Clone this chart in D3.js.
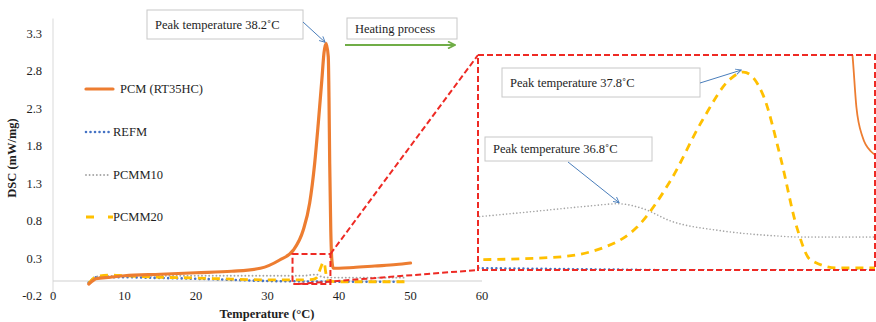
<!DOCTYPE html>
<html>
<head>
<meta charset="utf-8">
<script src="https://cdn.jsdelivr.net/npm/d3@7"></script>
<style>
  body { margin: 0; background: #fff; }
  svg { display: block; }
  text { font-family: "Liberation Serif", "Times New Roman", serif; fill: #1e1e1e; }
</style>
</head>
<body>
<svg id="chart" width="876" height="322"></svg>
<script>
// ---- main chart data (temperature in °C, DSC in mW/mg)
const pcmT  = [5, 5.5, 6, 8, 10, 15, 20, 25, 29, 31.7, 33.6, 35, 35.9, 36.6, 37.1, 37.6, 37.9, 38.2, 38.5, 38.6, 38.7, 38.85, 39.0, 39.2, 40, 42, 45, 48, 50];
const pcmV  = [-0.04, 0.0, 0.03, 0.05, 0.07, 0.09, 0.11, 0.13, 0.17, 0.28, 0.41, 0.68, 1.04, 1.57, 2.1, 2.68, 3.04, 3.17, 2.99, 2.45, 1.57, 0.68, 0.28, 0.17, 0.17, 0.18, 0.2, 0.22, 0.24];

const refmT = [5, 5.5, 6, 10, 15, 20, 25, 30, 35, 40, 45, 49.5];
const refmV = [-0.02, 0.02, 0.05, 0.05, 0.04, 0.03, 0.015, 0.0, -0.005, -0.01, -0.01, -0.01];

const pcmm10T = [5, 5.5, 6, 10, 20, 30, 35, 36.8, 37.6, 38.5, 40, 45, 49.5];
const pcmm10V = [-0.02, 0.03, 0.06, 0.07, 0.07, 0.07, 0.07, 0.087, 0.055, 0.046, 0.045, 0.045, 0.045];

const pcmm20T = [5, 5.5, 6, 8, 10, 15, 20, 25, 30, 34, 35.7, 36.3, 36.7, 37.0, 37.2, 37.5, 37.7, 37.8, 38.0, 38.1, 38.25, 38.35, 38.6, 40, 45, 49.5];
const pcmm20V = [-0.03, 0.02, 0.06, 0.08, 0.07, 0.05, 0.04, 0.025, 0.015, 0.015, 0.018, 0.021, 0.033, 0.06, 0.115, 0.19, 0.24, 0.25, 0.22, 0.143, 0.058, 0.018, 0.0, -0.01, -0.01, -0.01];

// ---- inset (enlarged view of the peak region)
const inPcmT    = [38.66, 38.69, 38.72, 38.77, 38.84, 38.9];
const inPcmV    = [0.31, 0.267, 0.206, 0.169, 0.151, 0.145];
const inRefmT   = [35.6, 36.2, 36.8, 37.4, 38.0, 38.9];
const inRefmV   = [0.008, 0.007, 0.006, 0.005, 0.005, 0.005];
const inPcmm10T = [35.6, 36.15, 36.55, 36.8, 37.0, 37.22, 37.62, 38.02, 38.29, 38.9];
const inPcmm10V = [0.070, 0.078, 0.084, 0.087, 0.081, 0.066, 0.054, 0.048, 0.046, 0.046];
const inPcmm20T = [35.6, 36.27, 36.68, 36.95, 37.22, 37.48, 37.70, 37.81, 37.97, 38.11, 38.24, 38.35, 38.57, 38.9];
const inPcmm20V = [0.018, 0.021, 0.033, 0.058, 0.115, 0.19, 0.24, 0.249, 0.22, 0.143, 0.058, 0.018, 0.008, 0.008];

const yTicks = [-0.2, 0.3, 0.8, 1.3, 1.8, 2.3, 2.8, 3.3];
const xTicks = [0, 10, 20, 30, 40, 50, 60];
const seriesNames = ["PCM (RT35HC)", "REFM", "PCMM10", "PCMM20"];
const zoomBox = {t0: 33.5, t1: 38.8, v0: -0.04, v1: 0.36};
const peaks = {pcm: [38.2, 3.17], pcmm10: [36.8, 0.087], pcmm20: [37.8, 0.249]};

const styles = {
  "PCM (RT35HC)": {color: "#ED7D31", width: 3.2, dash: null, cap: "round"},
  "REFM":   {color: "#4472C4", width: 2.6, dash: "0.01,4.5", cap: "round"},
  "PCMM10": {color: "#A5A5A5", width: 1.9, dash: "0.01,3.6", cap: "round"},
  "PCMM20": {color: "#FFC000", width: 2.8, dash: "8,6", cap: "butt"}
};

const svg = d3.select("#chart");

const x = d3.scaleLinear().domain([0, 60]).range([53, 482]);
const y = d3.scaleLinear().domain([-0.2, 3.5]).range([296, 18.5]);

const inset = {x0: 478, x1: 875, y0: 55, y1: 270};
const xi = d3.scaleLinear().domain([35.67, 38.87]).range([inset.x0, inset.x1]);
const yi = d3.scaleLinear().domain([0, 0.27]).range([274.5, 55]);

const zip = (a, b) => a.map((t, i) => [t, b[i]]);

// axes
svg.append("line").attr("x1", x(0)).attr("x2", x(0)).attr("y1", y(3.5)).attr("y2", y(-0.2))
  .attr("stroke", "#d9d9d9").attr("stroke-width", 1);
svg.append("line").attr("x1", x(0)).attr("x2", x(60)).attr("y1", y(0)).attr("y2", y(0))
  .attr("stroke", "#d0d0d0").attr("stroke-width", 1.2);

svg.selectAll("text.ytick").data(yTicks).enter().append("text")
  .attr("class", "ytick")
  .attr("x", 42).attr("y", d => y(d) + 4)
  .attr("text-anchor", "end").attr("font-size", 12.5)
  .text(d => d.toFixed(1));

svg.selectAll("text.xtick").data(xTicks).enter().append("text")
  .attr("class", "xtick")
  .attr("x", d => x(d)).attr("y", y(-0.2) + 4)
  .attr("text-anchor", "middle").attr("font-size", 12.5)
  .text(d => d);

svg.append("text").attr("x", 267).attr("y", 318).attr("text-anchor", "middle")
  .attr("font-size", 12.5).attr("font-weight", "bold").text("Temperature (°C)");
svg.append("text").attr("transform", "translate(16,158) rotate(-90)").attr("text-anchor", "middle")
  .attr("font-size", 12.5).attr("font-weight", "bold").text("DSC (mW/mg)");

// main lines
const line = d3.line().x(d => x(d[0])).y(d => y(d[1])).curve(d3.curveMonotoneX);
const mainSeries = [
  ["REFM", zip(refmT, refmV)],
  ["PCMM10", zip(pcmm10T, pcmm10V)],
  ["PCMM20", zip(pcmm20T, pcmm20V)],
  ["PCM (RT35HC)", zip(pcmT, pcmV)]
];
mainSeries.forEach(([name, pts]) => {
  const s = styles[name];
  svg.append("path").datum(pts).attr("d", line)
    .attr("fill", "none").attr("stroke", s.color).attr("stroke-width", s.width)
    .attr("stroke-dasharray", s.dash).attr("stroke-linecap", s.cap);
});

// legend
const legY = [89, 132, 175, 217];
seriesNames.forEach((name, i) => {
  const s = styles[name];
  svg.append("line").attr("x1", 86).attr("x2", i === 0 || name === "PCMM20" ? 113 : 110)
    .attr("y1", legY[i]).attr("y2", legY[i])
    .attr("stroke", s.color).attr("stroke-width", s.width)
    .attr("stroke-dasharray", name === "PCMM20" ? "8,14" : s.dash).attr("stroke-linecap", s.cap);
  svg.append("text").attr("x", i === 0 ? 120 : 113).attr("y", legY[i] + 4)
    .attr("font-size", 12.5).text(name);
});

// zoom box and connectors
const red = "#EE2A24";
svg.append("rect")
  .attr("x", x(zoomBox.t0)).attr("y", y(zoomBox.v1))
  .attr("width", x(zoomBox.t1) - x(zoomBox.t0)).attr("height", y(zoomBox.v0) - y(zoomBox.v1))
  .attr("fill", "none").attr("stroke", red).attr("stroke-width", 2).attr("stroke-dasharray", "6,3");
svg.append("line").attr("x1", x(zoomBox.t1)).attr("y1", y(zoomBox.v1)).attr("x2", inset.x0).attr("y2", inset.y0)
  .attr("stroke", red).attr("stroke-width", 2).attr("stroke-dasharray", "6,3");
svg.append("line").attr("x1", x(zoomBox.t0) + 6).attr("y1", y(zoomBox.v0)).attr("x2", inset.x0).attr("y2", inset.y1)
  .attr("stroke", red).attr("stroke-width", 2).attr("stroke-dasharray", "6,3");

// inset
svg.append("defs").append("clipPath").attr("id", "insetClip").append("rect")
  .attr("x", inset.x0).attr("y", inset.y0).attr("width", inset.x1 - inset.x0).attr("height", inset.y1 - inset.y0);
svg.append("rect").attr("x", inset.x0).attr("y", inset.y0)
  .attr("width", inset.x1 - inset.x0).attr("height", inset.y1 - inset.y0).attr("fill", "#fff");

const lineIn = d3.line().x(d => xi(d[0])).y(d => yi(d[1])).curve(d3.curveMonotoneX);
const gIn = svg.append("g").attr("clip-path", "url(#insetClip)");
const insetSeries = [
  ["REFM", zip(inRefmT, inRefmV), 2.5, "0.01,4.5"],
  ["PCMM10", zip(inPcmm10T, inPcmm10V), 1.6, "0.01,3.4"],
  ["PCMM20", zip(inPcmm20T, inPcmm20V), 2.8, "8,6"],
  ["PCM (RT35HC)", zip(inPcmT, inPcmV), 1.8, null]
];
insetSeries.forEach(([name, pts, w, dash]) => {
  const s = styles[name];
  gIn.append("path").datum(pts).attr("d", lineIn)
    .attr("fill", "none").attr("stroke", s.color).attr("stroke-width", w)
    .attr("stroke-dasharray", dash).attr("stroke-linecap", s.cap);
});

svg.append("rect").attr("x", inset.x0).attr("y", inset.y0)
  .attr("width", inset.x1 - inset.x0).attr("height", inset.y1 - inset.y0)
  .attr("fill", "none").attr("stroke", red).attr("stroke-width", 2).attr("stroke-dasharray", "6,3");

// annotations
const defs = svg.select("defs");
defs.append("marker").attr("id", "arrBlue").attr("viewBox", "0 0 10 10").attr("refX", 9).attr("refY", 5)
  .attr("markerWidth", 7).attr("markerHeight", 7).attr("orient", "auto")
  .append("path").attr("d", "M1,1 L9,5 L1,9").attr("fill", "none").attr("stroke", "#4A7EBB").attr("stroke-width", 1.3);
defs.append("marker").attr("id", "arrGreen").attr("viewBox", "0 0 10 10").attr("refX", 9).attr("refY", 5)
  .attr("markerWidth", 4).attr("markerHeight", 4).attr("orient", "auto")
  .append("path").attr("d", "M1,1 L9,5 L1,9").attr("fill", "none").attr("stroke", "#70AD47").attr("stroke-width", 2);

function labelBox(x0, y0, w, h, txt) {
  svg.append("rect").attr("x", x0).attr("y", y0).attr("width", w).attr("height", h)
    .attr("fill", "#fff").attr("stroke", "#c8c8c8").attr("stroke-width", 1);
  svg.append("text").attr("x", x0 + 8).attr("y", y0 + h / 2 + 4).attr("font-size", 12.5).text(txt);
}
function arrow(x1, y1, x2, y2) {
  svg.append("line").attr("x1", x1).attr("y1", y1).attr("x2", x2).attr("y2", y2)
    .attr("stroke", "#4A7EBB").attr("stroke-width", 1).attr("marker-end", "url(#arrBlue)");
}

labelBox(147, 10, 156, 29, "Peak temperature 38.2˚C");
arrow(303, 22, x(peaks.pcm[0]) - 1, y(peaks.pcm[1]) - 1);

labelBox(347, 18, 110, 21, "Heating process");
svg.append("line").attr("x1", 345).attr("y1", 45).attr("x2", 455).attr("y2", 45)
  .attr("stroke", "#70AD47").attr("stroke-width", 2.2).attr("marker-end", "url(#arrGreen)");

labelBox(502, 68, 198, 29, "Peak temperature 37.8˚C");
arrow(700, 83, xi(peaks.pcmm20[0]) - 1, yi(peaks.pcmm20[1]) - 2);

labelBox(485, 137, 167, 24, "Peak temperature 36.8˚C");
arrow(568, 162, xi(peaks.pcmm10[0]) + 1, yi(peaks.pcmm10[1]) - 1);
</script>
</body>
</html>
